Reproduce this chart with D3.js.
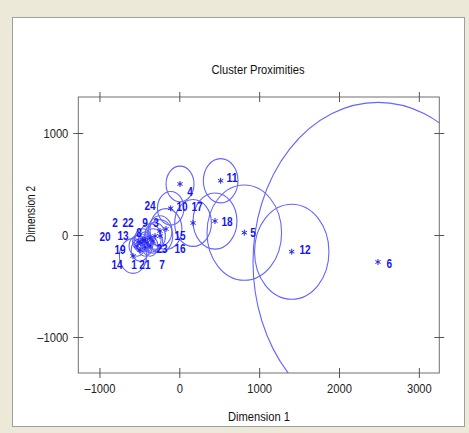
<!DOCTYPE html>
<html lang="en">
<head>
<meta charset="UTF-8">
<title>Cluster Proximities</title>
<style>
  body { margin: 0; background: #ece9d8; }
  .axis text { font-family: "Liberation Sans", Arial, sans-serif; font-size: 13px; fill: #222; }
  .lab { font-family: "Liberation Sans", Arial, sans-serif; font-size: 13.5px; font-weight: bold; fill: #1515f0; }
  .ttl { font-family: "Liberation Sans", Arial, sans-serif; font-size: 13px; fill: #111; }
</style>
<script src="https://d3js.org/d3.v7.min.js"></script>
</head>
<body>
<script>
// cluster id, centre (dim1, dim2), radius, label position
const clusters = [1,2,3,4,5,6,7,8,9,10,11,12,13,14,15,16,17,18,19,20,21,22,23,24];
const dim1 = [-492,-405,-304,9,814,2488,-367,-455,-367,-108,518,1408,-480,-580,-167,-242,172,447,-530,-517,-430,-430,-329,-242];
const dim2 = [-147,-78,-10,500,23,-265,-108,-49,-29,262,532,-164,-78,-206,59,-10,118,137,-108,-69,-118,-49,-59,39];
const radius = [110,80,130,175,467,1565,100,110,140,165,217,466,90,170,200,160,230,275,100,70,90,80,120,150];
const labelX = [-566,-805,-292,134,923,2630,-217,-505,-430,34,660,1574,-705,-780,9,9,222,597,-743,-930,-430,-642,-217,-367];
const labelY = [-294,127,127,431,20,-284,-294,20,127,284,559,-147,0,-294,0,-137,284,137,-147,-10,-294,127,-137,294];
const xTicks = [-1000,0,1000,2000,3000];
const yTicks = [-1000,0,1000];

const W = 469, H = 433;
const svg = d3.select("body").append("svg").attr("width", W).attr("height", H);

// panel
svg.append("rect").attr("x", 12.5).attr("y", 17.5).attr("width", 452).attr("height", 409)
  .attr("fill", "#fff").attr("stroke", "#a0a0a0");

const L = 78.3, R = 439.3, T = 97, B = 373;
const x = d3.scaleLinear().domain([-1265, 3256]).range([L, R]);
const y = d3.scaleLinear().domain([-1353, 1353]).range([B, T]);
const kx = (R - L) / (3256 + 1265), ky = (B - T) / (2 * 1353);

const fmt = d => d < 0 ? "\u2013" + Math.abs(d) : "" + d;
// the original font is a narrow one, squeeze text to its width
const squeeze = (sel, per) => sel.attr("textLength", function () { return this.textContent.length * per; })
  .attr("lengthAdjust", "spacingAndGlyphs");

svg.append("defs").append("clipPath").attr("id", "clip")
  .append("rect").attr("x", L).attr("y", T).attr("width", R - L).attr("height", B - T);

const data = clusters.map((c, i) => ({c, x: dim1[i], y: dim2[i], r: radius[i], lx: labelX[i], ly: labelY[i]}));

// circles
svg.append("g").attr("clip-path", "url(#clip)")
  .selectAll("ellipse").data(data).enter().append("ellipse")
  .attr("cx", d => x(d.x)).attr("cy", d => y(d.y))
  .attr("rx", d => d.r * kx).attr("ry", d => d.r * ky)
  .attr("fill", "none").attr("stroke", "#6464ff").attr("stroke-width", 1.1);

// stars
const star = "M0,-3V3M-2.6,-1.5L2.6,1.5M-2.6,1.5L2.6,-1.5";
svg.append("g").selectAll("path").data(data).enter().append("path")
  .attr("d", star).attr("transform", d => `translate(${x(d.x)},${y(d.y)})`)
  .attr("stroke", "#2020ee").attr("stroke-width", 1).attr("fill", "none");

// labels
svg.append("g").selectAll("text").data(data).enter().append("text")
  .attr("class", "lab")
  .attr("x", d => x(d.lx)).attr("y", d => y(d.ly))
  .attr("text-anchor", "middle").attr("dominant-baseline", "central")
  .text(d => d.c)
  .call(squeeze, 5.6);

// frame
svg.append("rect").attr("x", L).attr("y", T).attr("width", R - L).attr("height", B - T)
  .attr("fill", "none").attr("stroke", "#707070");

// axes
const gx = svg.append("g").attr("class", "axis").attr("transform", `translate(0,${B})`)
  .call(d3.axisBottom(x).tickValues(xTicks).tickFormat(fmt).tickSizeInner(5).tickSizeOuter(0).tickPadding(6));
const gxt = svg.append("g").attr("transform", `translate(0,${T})`)
  .call(d3.axisTop(x).tickValues(xTicks).tickFormat("").tickSizeInner(5).tickSizeOuter(0));
const gy = svg.append("g").attr("class", "axis").attr("transform", `translate(${L},0)`)
  .call(d3.axisLeft(y).tickValues(yTicks).tickFormat(fmt).tickSizeInner(5).tickSizeOuter(0).tickPadding(5));
const gyr = svg.append("g").attr("transform", `translate(${R},0)`)
  .call(d3.axisRight(y).tickValues(yTicks).tickFormat("").tickSizeInner(5).tickSizeOuter(0));
[gx, gxt, gy, gyr].forEach(g => {
  g.select(".domain").remove();
  g.selectAll(".tick line").attr("stroke", "#555");
});
gx.selectAll(".tick text").call(squeeze, 6.2);
gy.selectAll(".tick text").call(squeeze, 6.2);
// ticks cross the frame
gx.selectAll(".tick line").attr("y1", -5).attr("y2", 5);
gxt.selectAll(".tick line").attr("y1", 5).attr("y2", -5);
gy.selectAll(".tick line").attr("x1", 5).attr("x2", -5);
gyr.selectAll(".tick line").attr("x1", -5).attr("x2", 5);

svg.append("text").attr("class", "ttl").attr("x", 258).attr("y", 74)
  .attr("text-anchor", "middle").text("Cluster Proximities")
  .attr("textLength", 93).attr("lengthAdjust", "spacingAndGlyphs");
svg.append("text").attr("class", "ttl").attr("x", 259).attr("y", 421)
  .attr("text-anchor", "middle").text("Dimension 1")
  .attr("textLength", 62).attr("lengthAdjust", "spacingAndGlyphs");
svg.append("text").attr("class", "ttl").attr("transform", "translate(35,214) rotate(-90)")
  .attr("text-anchor", "middle").text("Dimension 2")
  .attr("textLength", 56).attr("lengthAdjust", "spacingAndGlyphs");
</script>
</body>
</html>
